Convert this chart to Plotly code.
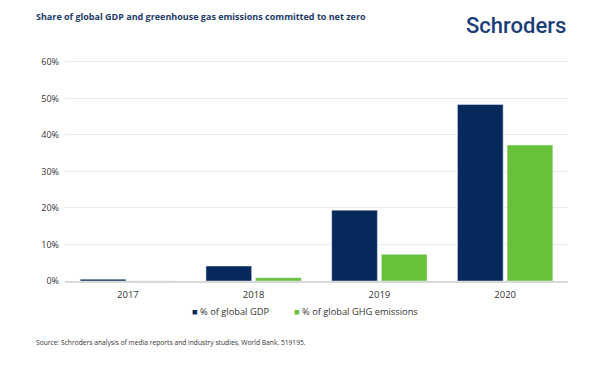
import plotly.graph_objects as go

years = ["2017", "2018", "2019", "2020"]
gdp = [0.5, 4.1, 19.4, 48.3]
ghg = [0.0, 0.9, 7.3, 37.2]
series_names = ["% of global GDP", "% of global GHG emissions"]
y_ticks = [0, 10, 20, 30, 40, 50, 60]
y_tick_labels = ["0%", "10%", "20%", "30%", "40%", "50%", "60%"]

navy = "#06295c"
green = "#67c23a"

fig = go.Figure()
fig.add_trace(go.Bar(x=years, y=gdp, name=series_names[0], marker_color=navy))
fig.add_trace(go.Bar(x=years, y=ghg, name=series_names[1], marker_color=green))

fig.update_layout(
    width=600, height=366,
    paper_bgcolor="white", plot_bgcolor="white",
    margin=dict(l=57, r=40, t=52, b=93, autoexpand=False),
    barmode="group", bargap=0.21, bargroupgap=0.08,
    font=dict(family="Open Sans", size=10, color="#333333"),
    showlegend=False,
    annotations=[
        dict(text="<b>Share of global GDP and greenhouse gas emissions committed to net zero</b>",
             xref="paper", yref="paper", x=-0.062, y=1.195, xanchor="left", yanchor="middle",
             showarrow=False, font=dict(size=9, color="#1b3a6b", family="Open Sans")),
        dict(text="Schroders", xref="paper", yref="paper", x=1.0, y=1.158,
             xanchor="right", yanchor="middle", showarrow=False,
             font=dict(size=22, color="#1c3d78", family="Roboto", weight=500)),
        dict(text="Source: Schroders analysis of media reports and industry studies, World Bank. 519195.",
             xref="paper", yref="paper", x=-0.062, y=-0.28, xanchor="left", yanchor="middle",
             showarrow=False, font=dict(size=6.7, color="#333333")),
        dict(text=f"<span style='color:{navy}'>■</span> {series_names[0]}",
             xref="paper", yref="paper", x=0.2485, y=-0.14, xanchor="left", yanchor="middle",
             showarrow=False, font=dict(size=9.3, color="#333333")),
        dict(text=f"<span style='color:{green}'>■</span> {series_names[1]}",
             xref="paper", yref="paper", x=0.452, y=-0.14, xanchor="left", yanchor="middle",
             showarrow=False, font=dict(size=9.3, color="#333333")),
    ],
)
fig.update_xaxes(showgrid=False, showline=True, linecolor="#d9d9d9", linewidth=1.5,
                 ticks="", tickfont=dict(size=9.5, color="#333333"), ticklabelstandoff=4)
fig.update_yaxes(range=[0, 60.5], tickvals=y_ticks, ticktext=y_tick_labels,
                 showgrid=True, gridcolor="#ececec", gridwidth=1, zeroline=False,
                 ticks="", tickfont=dict(size=9, color="#333333"), ticklabelstandoff=5)

fig.write_html("out.html")
